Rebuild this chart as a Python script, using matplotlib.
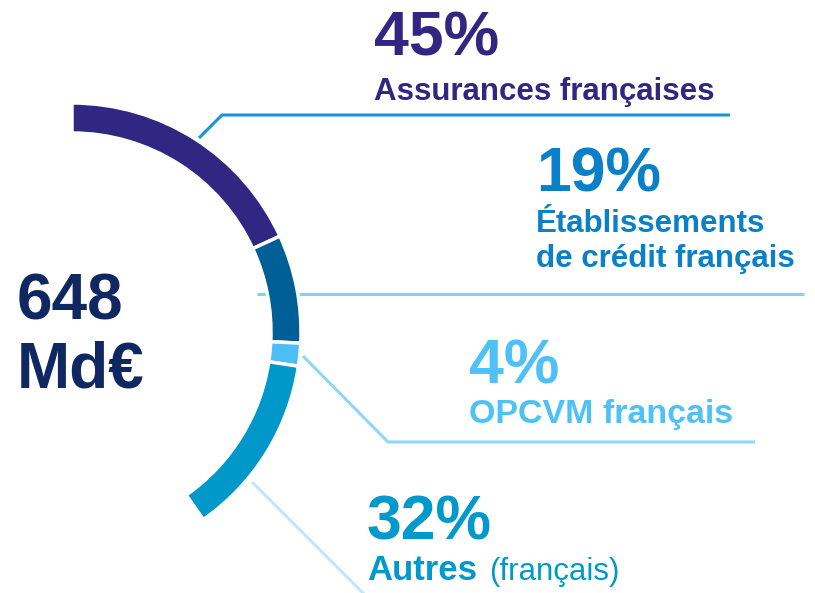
import matplotlib.pyplot as plt

# Data
labels = ["Assurances françaises", "Établissements\nde crédit français", "OPCVM français", "Autres"]
shares = [45, 19, 4, 32]
ring_colors = ["#312783", "#005f97", "#4dbdf6", "#0098cb"]
text_colors = ["#312783", "#0a80c8", "#4fc1f7", "#0099cc"]
line_colors = ["#1497d4", "#82d1f6", "#8fd6f8", "#c2e7fa"]
label_sizes = [22.5, 22.5, 24.5, 25]
total_label = ["648", "Md€"]
note_autres = "(français)"

ARC_SPAN = 145.0  # degrees covered by the 100 %
W, H = 815, 593
CX, CY = 72, H - 332
R_OUT, WIDTH = 229, 30

plt.rcParams["font.family"] = ["Liberation Sans", "DejaVu Sans"]


def py(y):
    # pixel row -> data y
    return H - y


def main():
    fig = plt.figure(figsize=(W / 100, H / 100), dpi=100)
    ax = fig.add_axes([0, 0, 1, 1])

    # leader lines (drawn below the ring)
    leaders = [
        [(199, 138), (222, 115), (730, 115)],
        [(257, 294), (804, 294)],
        [(303, 356), (388, 442), (755, 442)],
        [(252, 482), (375, 605)],
    ]
    for pts, c in zip(leaders, line_colors):
        xs = [p[0] for p in pts]
        ys = [py(p[1]) for p in pts]
        ax.plot(xs, ys, color=c, lw=2.2, solid_capstyle="butt", zorder=1)

    fracs = [s / 100 * ARC_SPAN / 360 for s in shares]
    ax.pie(
        fracs,
        colors=ring_colors,
        startangle=90,
        counterclock=False,
        normalize=False,
        center=(CX, CY),
        radius=R_OUT,
        wedgeprops=dict(width=WIDTH, edgecolor="white", linewidth=2.5, zorder=2),
    )

    ax.set_xlim(0, W)
    ax.set_ylim(0, H)
    ax.set_aspect("equal")
    ax.set_axis_off()

    # x, baseline of pct, baselines of the label lines
    pos = [(375, 55, [100]), (537, 192, [232, 267]), (470, 383, [423]), (368, 540, [580])]
    for (x, yb, ybs), s, lab, c, fs in zip(pos, shares, labels, text_colors, label_sizes):
        ax.text(x - 1, py(yb), f"{s}%", color=c, fontsize=45, fontweight="bold",
                ha="left", va="baseline")
        for line, y in zip(lab.split("\n"), ybs):
            ax.text(x - 1, py(y), line, color=c, fontsize=fs, fontweight="bold",
                    ha="left", va="baseline")
    ax.text(489, py(580), note_autres, color=text_colors[3], fontsize=22.5,
            ha="left", va="baseline")

    for line, y in zip(total_label, [320, 388]):
        ax.text(17, py(y), line, color="#0f2861", fontsize=46, fontweight="bold",
                ha="left", va="baseline")

    fig.savefig("out.png", dpi=100)


if __name__ == "__main__":
    main()
